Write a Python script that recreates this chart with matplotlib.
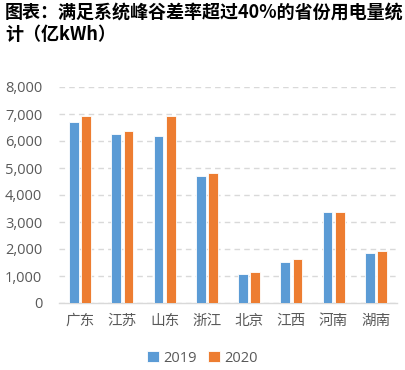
import matplotlib
matplotlib.use('Agg')
import matplotlib.pyplot as plt
import numpy as np

plt.rcParams['font.family'] = ['Noto Sans CJK SC', 'DejaVu Sans']

# data (亿kWh)
provinces = ['广东', '江苏', '山东', '浙江', '北京', '江西', '河南', '湖南']
use_2019 = [6690, 6255, 6200, 4690, 1065, 1530, 3355, 1850]
use_2020 = [6925, 6355, 6930, 4815, 1140, 1630, 3380, 1935]
yticks = [0, 1000, 2000, 3000, 4000, 5000, 6000, 7000, 8000]

BLUE = '#5B9BD5'
ORANGE = '#ED7D31'
GREY = '#595959'

fig = plt.figure(figsize=(4.05, 3.7), dpi=100)
ax = fig.add_axes([59 / 405, 1 - 303 / 370, 338 / 405, 216 / 370])

x = np.arange(len(provinces))
w = 0.23
ax.bar(x - w / 2 - 0.03, use_2019, w, color=BLUE, edgecolor='white', linewidth=0.6, label='2019', zorder=3)
ax.bar(x + w / 2 + 0.03, use_2020, w, color=ORANGE, edgecolor='white', linewidth=0.6, label='2020', zorder=3)

ax.set_xlim(-0.5, len(provinces) - 0.5)
ax.set_ylim(0, 8000)
ax.set_yticks(yticks)
ax.set_yticklabels([f'{v:,}' for v in yticks])
ax.set_xticks(x)
ax.set_xticklabels(provinces)
ax.tick_params(axis='both', length=0, colors=GREY, labelsize=10.5)
ax.tick_params(axis='x', pad=8)
ax.tick_params(axis='y', pad=12)
for lab in ax.get_yticklabels():
    lab.set_family(['Open Sans', 'DejaVu Sans'])

ax.grid(axis='y', color='#D9D9D9', linestyle=(0, (4, 3)), linewidth=1, zorder=0)
for s in ['top', 'right', 'left']:
    ax.spines[s].set_visible(False)
ax.spines['bottom'].set_color('#D9D9D9')
ax.spines['bottom'].set_linewidth(1)

fig.legend(loc='center', bbox_to_anchor=(0.5, 1 - 358 / 370), ncol=2, frameon=False,
           handlelength=0.8, handleheight=0.8, handletextpad=0.3,
           columnspacing=0.8, labelcolor=GREY, prop={'family': ['Open Sans', 'DejaVu Sans'], 'size': 10.5})

fig.text(5 / 405, 1 - 3 / 370, '图表：满足系统峰谷差率超过40%的省份用电量统\n计（亿kWh）',
         ha='left', va='top', fontsize=13, fontweight='bold', color='black', linespacing=1.2)

fig.savefig('out.png', dpi=100)
